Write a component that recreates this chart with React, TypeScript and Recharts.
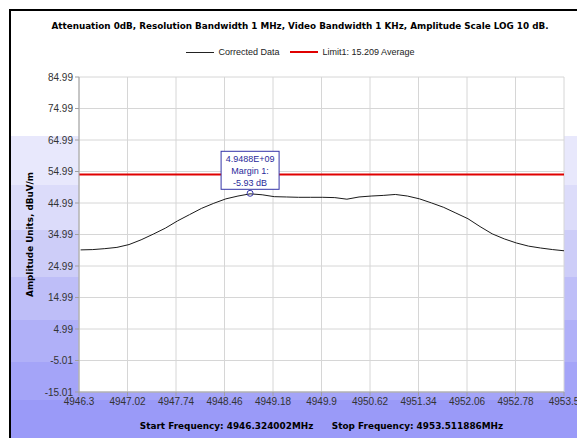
import { CartesianGrid, Label, Line, LineChart, ReferenceDot, ReferenceLine, XAxis, YAxis } from "recharts";

const FREQS = [
  4946.324, 4946.504, 4946.683, 4946.863, 4947.043, 4947.222, 4947.402, 4947.582, 4947.762, 4947.941,
  4948.121, 4948.301, 4948.48, 4948.66, 4948.84, 4949.019, 4949.199, 4949.379, 4949.558, 4949.738,
  4949.918, 4950.098, 4950.277, 4950.457, 4950.637, 4950.816, 4950.996, 4951.176, 4951.355, 4951.535,
  4951.715, 4951.895, 4952.074, 4952.254, 4952.434, 4952.613, 4952.793, 4952.973, 4953.152, 4953.332,
  4953.512,
];
const LEVELS = [
  30.1, 30.2, 30.5, 30.9, 31.8, 33.3, 35.1, 37.0, 39.3, 41.3,
  43.3, 44.9, 46.3, 47.2, 47.9, 47.6, 47.0, 46.9, 46.8, 46.8,
  46.8, 46.7, 46.2, 46.9, 47.2, 47.4, 47.7, 47.2, 46.3, 45.0,
  43.6, 41.8, 40.0, 37.5, 35.2, 33.6, 32.3, 31.3, 30.7, 30.2,
  29.8,
];
const X_TICKS = [4946.3, 4947.02, 4947.74, 4948.46, 4949.18, 4949.9, 4950.62, 4951.34, 4952.06, 4952.78, 4953.5];
const Y_TICKS = [-15.01, -5.01, 4.99, 14.99, 24.99, 34.99, 44.99, 54.99, 64.99, 74.99, 84.99];
const LIMIT = 54;
const MARKER_FREQ = 4948.84;
const MARKER_LEVEL = 48.07;
const MARKER_LINES = ["4.9488E+09", "Margin 1:", "-5.93 dB"];

const TITLE = "Attenuation 0dB, Resolution Bandwidth 1 MHz, Video Bandwidth 1 KHz, Amplitude Scale LOG 10 dB.";
const FOOTER = "Start Frequency: 4946.324002MHz\u00a0\u00a0\u00a0\u00a0\u00a0\u00a0Stop Frequency: 4953.511886MHz";

const data = FREQS.map((f, i) => ({ freq: f, level: LEVELS[i] }));

const BG =
  "linear-gradient(to bottom, #ffffff 0px, #ffffff 125px, #e8e8fc 125px, #e8e8fc 174px, #dcdcfa 174px, #dcdcfa 219px, #cdcdf8 219px, #cdcdf8 266px, #bebef8 266px, #bebef8 309px, #b0b0f8 309px, #b0b0f8 351px, #a4a4f8 351px, #a4a4f8 389px, #9a9af8 389px)";

const tickStyle = { fill: "#333", fontSize: 10, fontFamily: "Liberation Sans" };

const MarkerShape = (props: any) => {
  const { cx, cy } = props;
  return (
    <g>
      <circle cx={cx} cy={cy} r={3} fill="none" stroke="#3535a8" strokeWidth={1} />
      <rect x={cx - 29} y={cy - 42} width={58} height={38} fill="#fff" stroke="#3535a8" strokeWidth={1} />
      {MARKER_LINES.map((t, i) => (
        <text key={t} x={cx} y={cy - 31 + i * 12} textAnchor="middle" fontSize={9} fontFamily="Liberation Sans" fill="#2a2a9a">
          {t}
        </text>
      ))}
    </g>
  );
};

export default function App() {
  return (
    <div style={{ position: "fixed", left: 0, top: 0, width: 577, height: 438, background: "#fff", overflow: "hidden" }}>
      <div
        style={{
          position: "absolute",
          left: 9,
          top: 9,
          width: 568,
          height: 429,
          borderLeft: "2px solid #000",
          borderTop: "2px solid #000",
          background: BG,
        }}
      />
      <div
        style={{
          position: "absolute",
          left: 0,
          width: 600,
          top: 21,
          textAlign: "center",
          fontFamily: "DejaVu Sans",
          fontWeight: 700,
          fontSize: 8.8,
          color: "#000",
          whiteSpace: "nowrap",
        }}
      >
        {TITLE}
      </div>
      <div
        style={{
          position: "absolute",
          left: 0,
          width: 600,
          top: 47,
          display: "flex",
          justifyContent: "center",
          alignItems: "center",
          fontFamily: "Liberation Sans",
          fontSize: 9,
          color: "#222",
        }}
      >
        <span style={{ display: "inline-block", width: 28, height: 1, background: "#222", marginRight: 5 }} />
        <span>Corrected Data</span>
        <span style={{ display: "inline-block", width: 28, height: 2, background: "#e00000", margin: "0 5px 0 10px" }} />
        <span>Limit1: 15.209 Average</span>
      </div>
      <div style={{ position: "absolute", left: 0, top: 0 }}>
        <LineChart width={577} height={438} data={data} margin={{ top: 77, right: 13, bottom: 0, left: 0 }}>
          <CartesianGrid stroke="#d6d6d6" fill="#fff" fillOpacity={1} />
          <XAxis
            dataKey="freq"
            type="number"
            domain={[4946.3, 4953.5]}
            ticks={X_TICKS}
            allowDataOverflow
            tick={tickStyle}
            tickSize={4}
            tickMargin={2}
            stroke="#a0a0a0"
            height={46}
            interval={0}
          />
          <YAxis
            type="number"
            domain={[-15.01, 84.99]}
            ticks={Y_TICKS}
            allowDataOverflow
            tick={tickStyle}
            tickSize={4}
            tickMargin={2}
            stroke="#a0a0a0"
            width={79}
            interval={0}
            tickFormatter={(v: number) => v.toFixed(2)}
          >
            <Label
              value="Amplitude Units, dBuV/m"
              angle={-90}
              position="center"
              dx={-10}
              style={{ fontFamily: "DejaVu Sans", fontWeight: 700, fontSize: 8.8, fill: "#000" }}
            />
          </YAxis>
          <ReferenceLine y={LIMIT} stroke="#e00000" strokeWidth={2} />
          <Line
            type="linear"
            dataKey="level"
            stroke="#1a1a1a"
            strokeWidth={1}
            dot={false}
            isAnimationActive={false}
          />
          <ReferenceDot x={MARKER_FREQ} y={MARKER_LEVEL} shape={MarkerShape} />
        </LineChart>
      </div>
      <div
        style={{
          position: "absolute",
          left: 79,
          width: 485,
          top: 421,
          textAlign: "center",
          fontFamily: "DejaVu Sans",
          fontWeight: 700,
          fontSize: 8.9,
          color: "#000",
          whiteSpace: "nowrap",
        }}
      >
        {FOOTER}
      </div>
    </div>
  );
}
